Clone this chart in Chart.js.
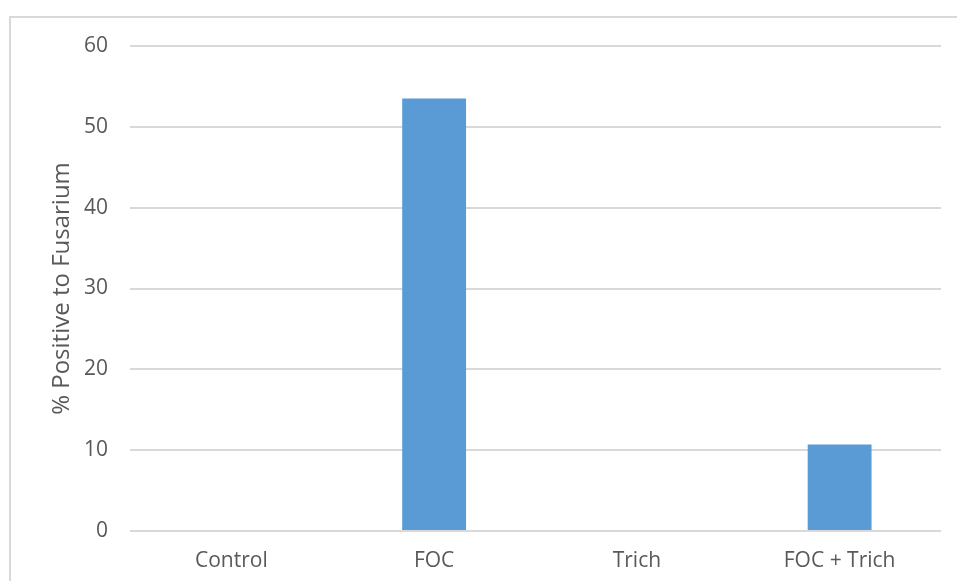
<!DOCTYPE html>
<html>
<head>
<meta charset="utf-8">
<script src="https://cdn.jsdelivr.net/npm/chart.js@4/dist/chart.umd.min.js"></script>
<style>
  html, body { margin: 0; padding: 0; background: #fff; }
  #wrap { position: relative; width: 957px; height: 581px; }
  #frame { position: absolute; left: 9px; top: 16px; width: 960px; height: 580px;
           border-left: 2px solid #d9d9d9; border-top: 2px solid #d9d9d9; }
  canvas { position: absolute; left: 0; top: 0; }
</style>
</head>
<body>
<div id="wrap">
  <div id="frame"></div>
  <canvas id="grafica" width="957" height="581"></canvas>
</div>
<script>
// datos
const categorias = ['Control', 'FOC', 'Trich', 'FOC + Trich'];
const positivos = [0, 53.5, 0, 10.7];
const tituloEjeY = '% Positive to Fusarium';

const grafica = document.getElementById('grafica');
const fuente = "'Open Sans', Lato, sans-serif";

let grafica_OBJ = new Chart(grafica, {
  type: 'bar',
  data: {
    labels: categorias,
    datasets: [{
      data: positivos,
      backgroundColor: '#5b9bd5',
      categoryPercentage: 1,
      barPercentage: 0.315
    }]
  },
  options: {
    responsive: false,
    animation: false,
    layout: { padding: { left: 48, right: 16, top: 46, bottom: 0 } },
    plugins: { legend: { display: false }, tooltip: { enabled: false } },
    scales: {
      x: {
        grid: { display: false },
        border: { display: false },
        ticks: { color: '#595959', font: { family: fuente, size: 21 }, padding: 9 },
        afterFit: (s) => { s.height = 50; }
      },
      y: {
        min: 0, max: 60,
        ticks: { stepSize: 10, color: '#595959', font: { family: fuente, size: 21 }, padding: 22 },
        grid: { color: '#d9d9d9', lineWidth: 2, drawTicks: false },
        border: { display: false },
        title: { display: true, text: tituloEjeY, color: '#595959', font: { family: fuente, size: 24 }, padding: 0 },
        afterFit: (s) => { s.width = 82; }
      }
    }
  }
});
</script>
</body>
</html>
